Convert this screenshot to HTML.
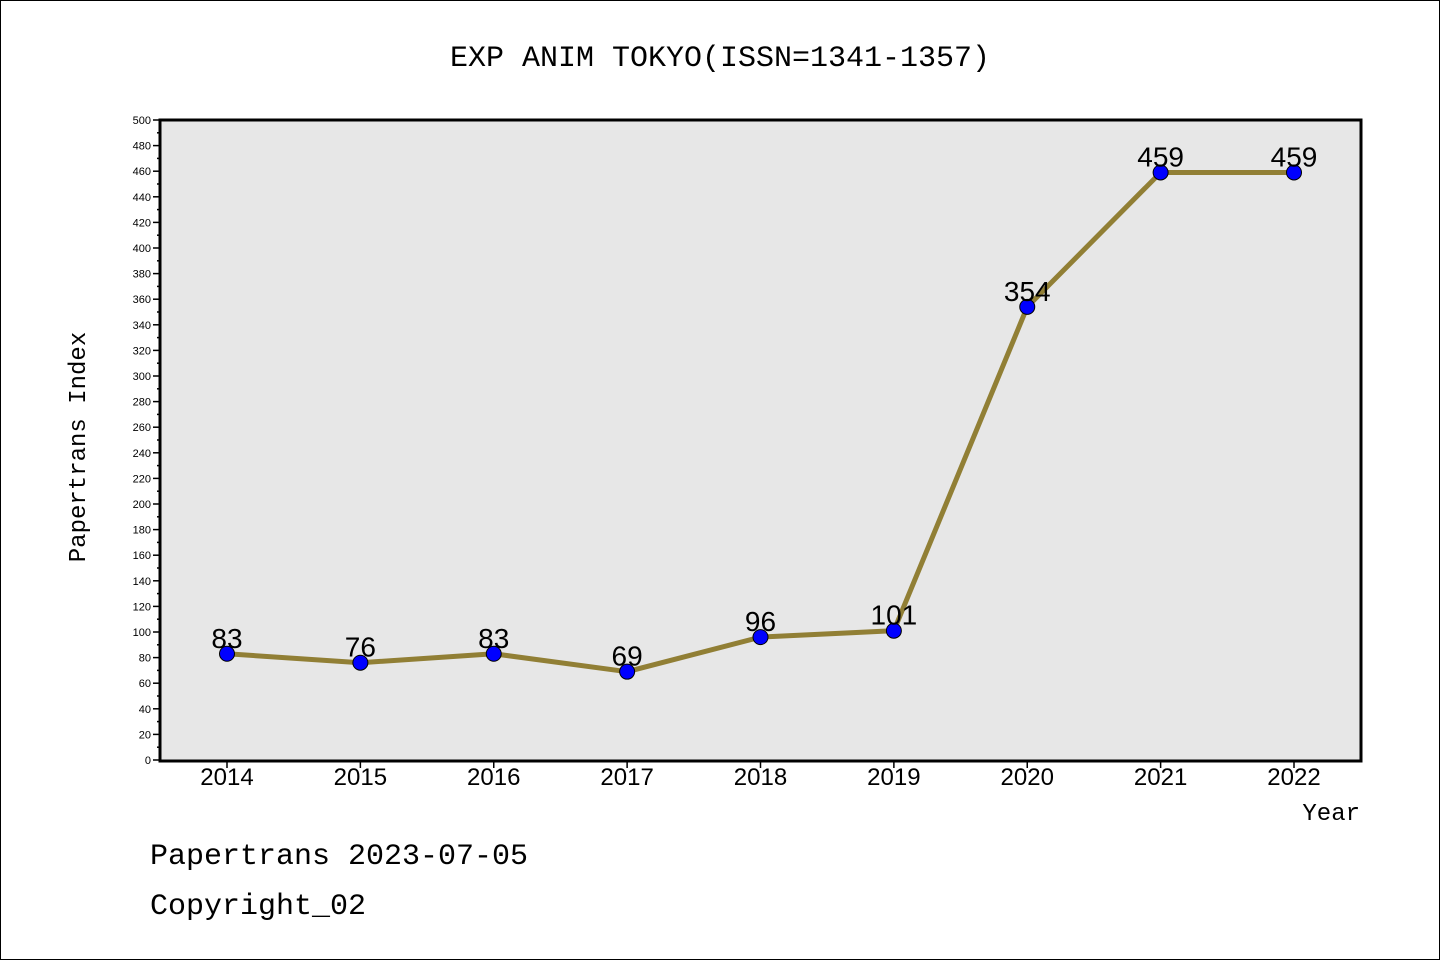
<!DOCTYPE html>
<html><head><meta charset="utf-8"><style>
html,body{margin:0;padding:0;background:#fff}
svg{display:block;font-family:"Liberation Sans","WenQuanYi Zen Hei",sans-serif}
</style></head><body>
<svg id="chart" width="1440" height="960">
<rect x="0.5" y="0.5" width="1439" height="959" fill="#fff" stroke="#000"/>
<text x="720" y="66" font-size="30" text-anchor="middle" font-family="Liberation Mono, monospace">EXP ANIM TOKYO(ISSN=1341-1357)</text>
<rect x="160" y="120" width="1201" height="641" fill="#e7e7e7" stroke="#000" stroke-width="3"/>
<g id="yaxis"></g><g id="xaxis"></g><g id="series"></g>
<text transform="translate(85,447) rotate(-90)" font-size="24" text-anchor="middle" font-family="Liberation Mono, monospace">Papertrans Index</text>
<text x="1360" y="820" font-size="24" text-anchor="end" font-family="Liberation Mono, monospace">Year</text>
<text x="150" y="864" font-size="30" font-family="Liberation Mono, monospace">Papertrans 2023-07-05</text>
<text x="150" y="914" font-size="30" font-family="Liberation Mono, monospace">Copyright_02</text>
</svg>
<script>
const years=[2014,2015,2016,2017,2018,2019,2020,2021,2022];
const values=[83,76,83,69,96,101,354,459,459];
const yTicks=[0,20,40,60,80,100,120,140,160,180,200,220,240,260,280,300,320,340,360,380,400,420,440,460,480,500];
const NS="http://www.w3.org/2000/svg";
const x0=227,dx=(1294-227)/8;
const xs=i=>x0+i*dx;
const ys=v=>760-v*1.28;
function mk(t,a,p,txt){const e=document.createElementNS(NS,t);for(const k in a)e.setAttribute(k,a[k]);if(txt!==undefined)e.textContent=txt;p.appendChild(e);return e;}
const ya=document.getElementById('yaxis');
yTicks.forEach(v=>{
 const y=ys(v);
 const t=mk('line',{x1:153,x2:160,y1:y,y2:y,stroke:'#000','stroke-width':1.5},ya);
 
 
 if(v<500){const m=mk('line',{x1:157,x2:160,y1:y-12.8,y2:y-12.8,stroke:'#000','stroke-width':1.5},ya);
 
 }
 const l=mk('text',{x:151,y:y+4,'font-size':11,'text-anchor':'end'},ya,String(v));
 
 
});
const xa=document.getElementById('xaxis');
years.forEach((yr,i)=>{
 const t=mk('line',{x1:xs(i),x2:xs(i),y1:762,y2:768,stroke:'#000','stroke-width':1.5},xa);
 
 
 const l=mk('text',{x:xs(i),y:785,'font-size':24,'text-anchor':'middle'},xa,String(yr));
 
 
});
const s=document.getElementById('series');
const line=mk('polyline',{points:values.map((v,i)=>xs(i)+','+ys(v)).join(' '),fill:'none',stroke:'#917f35','stroke-width':5,'stroke-linejoin':'round'},s);


values.forEach((v,i)=>{
 const c=mk('circle',{cx:xs(i),cy:ys(v),r:7.5,fill:'#0000ff',stroke:'#000','stroke-width':1},s);
 
 
 const l=mk('text',{x:xs(i),y:ys(v)-6,'font-size':28,'text-anchor':'middle'},s,String(v));
 
 
});
</script>
</body></html>
